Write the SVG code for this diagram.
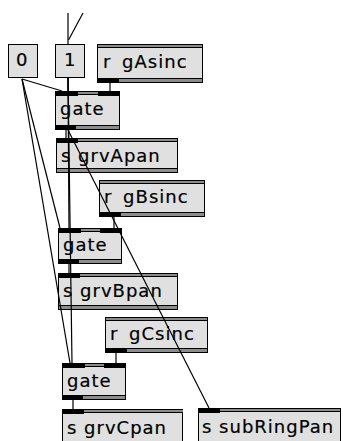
<svg xmlns="http://www.w3.org/2000/svg" width="343" height="441" viewBox="0 0 343 441">
  <style>
    .bx { fill: #e0e0e0; stroke: #000; stroke-width: 1; shape-rendering: crispEdges; }
    .gr { fill: #8c8c8c; shape-rendering: crispEdges; }
    .k { fill: #000; shape-rendering: crispEdges; }
    .t { font-family: "DejaVu Sans", Verdana, sans-serif; font-size: 18px; letter-spacing: 1px; fill: #000; stroke: #000; stroke-width: 0.2; }
    .rt { word-spacing: 4px; }
    .cord { stroke: #000; stroke-width: 1.2; fill: none; }
  </style>
  <rect width="343" height="441" fill="#fff"/>

  <!-- message boxes -->
  <g id="msg0" transform="translate(8,44)">
    <rect class="bx" x="0.5" y="0.5" width="29" height="33"/>
    <text class="t" x="8" y="22">0</text>
  </g>
  <g id="msg1" transform="translate(55,44)">
    <rect class="bx" x="0.5" y="0.5" width="29" height="33"/>
    <text class="t" x="9" y="22">1</text>
  </g>

  <!-- receive objects: outlet at bottom left -->
  <g id="r_gAsinc" transform="translate(97,44)">
    <rect class="bx" x="0.5" y="0.5" width="105" height="38"/>
    <rect class="gr" x="1" y="1" width="104" height="2"/><rect class="k" x="1" y="3" width="104" height="1"/>
    <rect class="k" x="1" y="34" width="104" height="1"/><rect class="gr" x="1" y="35" width="104" height="3"/>
    <rect class="k" x="0" y="34" width="22" height="5"/>
    <text class="t rt" x="6" y="24">r gAsinc</text>
  </g>
  <g id="r_gBsinc" transform="translate(99,180)">
    <rect class="bx" x="0.5" y="0.5" width="105" height="36"/>
    <rect class="gr" x="1" y="1" width="104" height="2"/><rect class="k" x="1" y="3" width="104" height="1"/>
    <rect class="k" x="1" y="32" width="104" height="1"/><rect class="gr" x="1" y="33" width="104" height="3"/>
    <rect class="k" x="0" y="32" width="22" height="5"/>
    <text class="t rt" x="5" y="23">r gBsinc</text>
  </g>
  <g id="r_gCsinc" transform="translate(105,317)">
    <rect class="bx" x="0.5" y="0.5" width="102" height="35"/>
    <rect class="gr" x="1" y="1" width="101" height="2"/><rect class="k" x="1" y="3" width="101" height="1"/>
    <rect class="k" x="1" y="31" width="101" height="1"/><rect class="gr" x="1" y="32" width="101" height="3"/>
    <rect class="k" x="0" y="31" width="22" height="5"/>
    <text class="t rt" x="5" y="23">r gCsinc</text>
  </g>

  <!-- gates: two inlets, one outlet -->
  <g id="gate1" transform="translate(55,91)">
    <rect class="bx" x="0.5" y="0.5" width="64" height="38"/>
    <rect class="gr" x="1" y="1" width="63" height="2"/><rect class="k" x="1" y="3" width="63" height="1"/>
    <rect class="k" x="1" y="34" width="63" height="1"/><rect class="gr" x="1" y="35" width="63" height="3"/>
    <rect class="k" x="0" y="0" width="23" height="5"/><rect class="k" x="43" y="0" width="22" height="5"/>
    <rect class="k" x="0" y="34" width="21" height="5"/>
    <text class="t" x="5" y="24">gate</text>
  </g>
  <g id="gate2" transform="translate(58,228)">
    <rect class="bx" x="0.5" y="0.5" width="63" height="35"/>
    <rect class="gr" x="1" y="1" width="62" height="2"/><rect class="k" x="1" y="3" width="62" height="1"/>
    <rect class="k" x="1" y="31" width="62" height="1"/><rect class="gr" x="1" y="32" width="62" height="3"/>
    <rect class="k" x="0" y="0" width="23" height="5"/><rect class="k" x="42" y="0" width="22" height="5"/>
    <rect class="k" x="0" y="31" width="21" height="5"/>
    <text class="t" x="5" y="23">gate</text>
  </g>
  <g id="gate3" transform="translate(62,363)">
    <rect class="bx" x="0.5" y="0.5" width="63" height="36"/>
    <rect class="gr" x="1" y="1" width="62" height="2"/><rect class="k" x="1" y="3" width="62" height="1"/>
    <rect class="k" x="1" y="32" width="62" height="1"/><rect class="gr" x="1" y="33" width="62" height="3"/>
    <rect class="k" x="0" y="0" width="23" height="5"/><rect class="k" x="42" y="0" width="22" height="5"/>
    <rect class="k" x="0" y="32" width="21" height="5"/>
    <text class="t" x="5" y="24">gate</text>
  </g>

  <!-- send objects: inlet at top left -->
  <g id="s_grvApan" transform="translate(56,138)">
    <rect class="bx" x="0.5" y="0.5" width="121" height="34"/>
    <rect class="gr" x="1" y="1" width="120" height="2"/><rect class="k" x="1" y="3" width="120" height="1"/>
    <rect class="k" x="1" y="30" width="120" height="1"/><rect class="gr" x="1" y="31" width="120" height="3"/>
    <rect class="k" x="0" y="0" width="22" height="5"/>
    <text class="t" x="5" y="24">s grvApan</text>
  </g>
  <g id="s_grvBpan" transform="translate(58,273)">
    <rect class="bx" x="0.5" y="0.5" width="119" height="36"/>
    <rect class="gr" x="1" y="1" width="118" height="2"/><rect class="k" x="1" y="3" width="118" height="1"/>
    <rect class="k" x="1" y="32" width="118" height="1"/><rect class="gr" x="1" y="33" width="118" height="3"/>
    <rect class="k" x="0" y="0" width="22" height="5"/>
    <text class="t" x="5" y="24">s grvBpan</text>
  </g>
  <g id="s_grvCpan" transform="translate(62,409)">
    <rect class="bx" x="0.5" y="0.5" width="120" height="37"/>
    <rect class="gr" x="1" y="1" width="120" height="2"/><rect class="k" x="1" y="3" width="119" height="1"/>
    <rect class="k" x="0" y="0" width="22" height="5"/>
    <text class="t" x="5" y="25">s grvCpan</text>
  </g>
  <g id="s_subRingPan" transform="translate(198,408)">
    <rect class="bx" x="0.5" y="0.5" width="142" height="38"/>
    <rect class="gr" x="1" y="1" width="141" height="2"/><rect class="k" x="1" y="3" width="141" height="1"/>
    <rect class="k" x="0" y="0" width="22" height="5"/>
    <text class="t" x="4" y="25">s subRingPan</text>
  </g>

  <!-- patch cords -->
  <g id="cords" class="cord">
    <line x1="68" y1="13" x2="68" y2="44"/>
    <line x1="83" y1="13" x2="68.5" y2="40"/>
    <line x1="22" y1="79" x2="62" y2="91"/>
    <line x1="22" y1="79" x2="60" y2="228"/>
    <line x1="22" y1="79" x2="70" y2="363"/>
    <line x1="68" y1="78" x2="68" y2="91"/>
    <line x1="68" y1="78" x2="69" y2="228"/>
    <line x1="68" y1="78" x2="72" y2="363"/>
    <line x1="110" y1="83" x2="110" y2="91"/>
    <line x1="66" y1="130" x2="66" y2="138"/>
    <line x1="68" y1="130" x2="209" y2="408"/>
    <line x1="114" y1="217" x2="114" y2="228"/>
    <line x1="69" y1="264" x2="69" y2="273"/>
    <line x1="116" y1="353" x2="116" y2="363"/>
    <line x1="73" y1="400" x2="73" y2="409"/>
  </g>
</svg>
